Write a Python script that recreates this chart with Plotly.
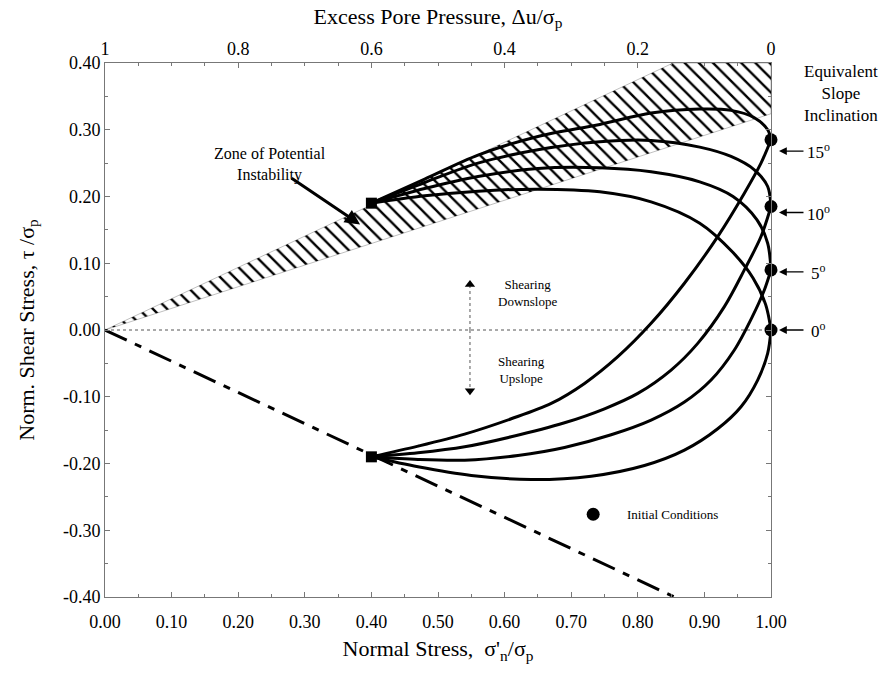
import plotly.graph_objects as go

# ---- data -------------------------------------------------------------
# Zone of potential instability (between the two limiting lines)
zone_x = [0.0, 0.853, 1.0, 1.0, 0.0]
zone_y = [0.0, 0.40, 0.40, 0.324, 0.0]

# Failure line for upslope shearing (dash-dot)
fail_x = [0.0, 0.855]
fail_y = [0.0, -0.40]

# Initial conditions for each equivalent slope inclination
slope_labels = ["0", "5", "10", "15"]
init_x = [1.0, 1.0, 1.0, 1.0]
init_y = [0.0, 0.09, 0.185, 0.285]
slope_tan = [0.0, 0.087, 0.176, 0.268]

# Stress paths, shearing downslope (from the limiting line to the initial state)
down_x = {
    "0": [0.40, 0.48, 0.56, 0.65, 0.743, 0.82, 0.893, 0.943, 0.973, 0.992, 1.0],
    "5": [0.40, 0.48, 0.56, 0.65, 0.743, 0.82, 0.893, 0.943, 0.979, 0.995, 1.0],
    "10": [0.40, 0.48, 0.56, 0.65, 0.743, 0.82, 0.893, 0.94, 0.975, 0.995, 1.0],
    "15": [0.40, 0.48, 0.56, 0.65, 0.743, 0.82, 0.893, 0.94, 0.975, 0.995, 1.0],
}
down_y = {
    "0": [0.19, 0.201, 0.208, 0.211, 0.207, 0.192, 0.16, 0.116, 0.078, 0.038, 0.0],
    "5": [0.19, 0.212, 0.23, 0.242, 0.243, 0.237, 0.222, 0.2, 0.165, 0.13, 0.09],
    "10": [0.19, 0.221, 0.25, 0.27, 0.282, 0.284, 0.274, 0.26, 0.24, 0.215, 0.185],
    "15": [0.19, 0.226, 0.262, 0.29, 0.308, 0.325, 0.331, 0.329, 0.318, 0.30, 0.285],
}

# Stress paths, shearing upslope (from the limiting line to the initial state)
up_x = {
    "0": [0.40, 0.47, 0.55, 0.64, 0.73, 0.81, 0.87, 0.92, 0.955, 0.98, 0.995, 1.0],
    "5": [0.40, 0.47, 0.54, 0.62, 0.69, 0.76, 0.82, 0.87, 0.91, 0.945, 0.972, 0.99, 1.0],
    "10": [0.40, 0.47, 0.54, 0.61, 0.69, 0.75, 0.80, 0.85, 0.89, 0.93, 0.96, 0.985, 1.0],
    "15": [0.40, 0.47, 0.54, 0.61, 0.67, 0.72, 0.77, 0.82, 0.87, 0.92, 0.96, 0.985, 1.0],
}
up_y = {
    "0": [-0.19, -0.205, -0.218, -0.224, -0.219, -0.203, -0.18, -0.148, -0.115, -0.075, -0.035, 0.0],
    "5": [-0.19, -0.194, -0.195, -0.188, -0.176, -0.157, -0.135, -0.108, -0.075, -0.03, 0.02, 0.06, 0.09],
    "10": [-0.19, -0.184, -0.175, -0.16, -0.139, -0.118, -0.095, -0.06, -0.02, 0.035, 0.09, 0.14, 0.185],
    "15": [-0.19, -0.174, -0.156, -0.133, -0.11, -0.08, -0.04, 0.01, 0.07, 0.14, 0.205, 0.25, 0.285],
}

# Points where the paths reach the limiting lines
end_x = [0.40, 0.40]
end_y = [0.19, -0.19]

# Legend marker position
legend_x = [0.733]
legend_y = [-0.276]

# Axis ticks
x_ticks = [0.0, 0.1, 0.2, 0.3, 0.4, 0.5, 0.6, 0.7, 0.8, 0.9, 1.0]
y_ticks = [-0.4, -0.3, -0.2, -0.1, 0.0, 0.1, 0.2, 0.3, 0.4]
y_text = ["-0.40", "-0.30", "-0.20", "-0.10", "0.00", "0.10", "0.20", "0.30", "0.40"]
top_ticks = [1.0, 0.8, 0.6, 0.4, 0.2, 0.0]
top_text = ["1", "0.8", "0.6", "0.4", "0.2", "0"]

# ---- figure -----------------------------------------------------------
SERIF = "Liberation Serif, Times New Roman, serif"
fig = go.Figure()

fig.add_trace(go.Scatter(
    x=zone_x, y=zone_y, mode="lines", fill="toself",
    line=dict(width=0.5, color="rgba(0,0,0,0.5)"),
    fillcolor="white",
    fillpattern=dict(shape="\\", size=10, solidity=0.24, fgcolor="black",
                     bgcolor="white", fgopacity=1),
    hoverinfo="skip", showlegend=False,
))

# zero shear line
fig.add_trace(go.Scatter(
    x=[0.0, 1.0], y=[0.0, 0.0], mode="lines",
    line=dict(color="#555", width=1, dash="dot"), showlegend=False,
))

fig.add_trace(go.Scatter(
    x=fail_x, y=fail_y, mode="lines",
    line=dict(color="black", width=3, dash="24px,9px,7px,9px"), showlegend=False,
))

for key in slope_labels:
    for xs, ys in ((down_x[key], down_y[key]), (up_x[key], up_y[key])):
        fig.add_trace(go.Scatter(
            x=xs, y=ys, mode="lines", line_shape="spline",
            line=dict(color="black", width=3, smoothing=0.9), showlegend=False,
        ))

fig.add_trace(go.Scatter(
    x=end_x, y=end_y, mode="markers",
    marker=dict(symbol="square", size=11, color="black"), showlegend=False,
))
fig.add_trace(go.Scatter(
    x=init_x, y=init_y, mode="markers", cliponaxis=False,
    marker=dict(symbol="circle", size=13, color="black"), showlegend=False,
))
fig.add_trace(go.Scatter(
    x=legend_x, y=legend_y, mode="markers",
    marker=dict(symbol="circle", size=13, color="black"), showlegend=False,
))

# shearing direction arrows
fig.add_trace(go.Scatter(
    x=[0.548, 0.548], y=[0.0, 0.07], mode="lines",
    line=dict(color="#555", width=1, dash="dot"), showlegend=False,
))
fig.add_trace(go.Scatter(
    x=[0.548, 0.548], y=[0.0, -0.093], mode="lines",
    line=dict(color="#555", width=1, dash="dot"), showlegend=False,
))
fig.add_trace(go.Scatter(
    x=[0.548, 0.548], y=[0.068, -0.091], mode="markers",
    marker=dict(symbol=["triangle-up", "triangle-down"], size=9, color="black"),
    showlegend=False,
))

# secondary axis for excess pore pressure
fig.add_trace(go.Scatter(x=[1.0, 0.0], y=[None, None], xaxis="x2", showlegend=False))

ann = []
ann.append(dict(x=0.248, y=0.248, xref="x", yref="y", showarrow=False,
                text="Zone of Potential<br>Instability", align="center",
                font=dict(family=SERIF, size=16, color="black")))
ann.append(dict(x=0.383, y=0.158, ax=0.278, ay=0.229, xref="x", yref="y",
                axref="x", ayref="y", showarrow=True, arrowhead=2, arrowsize=1,
                arrowwidth=3, arrowcolor="black", text=""))
ann.append(dict(x=1.105, y=0.355, xref="paper", yref="y", showarrow=False,
                xanchor="center", yanchor="middle",
                text="Equivalent<br>Slope<br>Inclination", align="center",
                font=dict(family=SERIF, size=17, color="black")))
for lab, t in zip(slope_labels, slope_tan):
    ann.append(dict(x=1.012, y=t, ax=26, ay=0, xref="paper", yref="y",
                    showarrow=True, arrowhead=2, arrowsize=1.2, arrowwidth=1.3,
                    arrowcolor="black", text=""))
    ann.append(dict(x=1.072, y=t, xref="paper", yref="y", showarrow=False,
                    xanchor="center", text=lab + "<sup>o</sup>",
                    font=dict(family=SERIF, size=17, color="black")))
ann.append(dict(x=0.635, y=0.055, xref="x", yref="y", showarrow=False,
                xanchor="center", text="Shearing<br>Downslope", align="center",
                font=dict(family=SERIF, size=13, color="black")))
ann.append(dict(x=0.626, y=-0.06, xref="x", yref="y", showarrow=False,
                xanchor="center", text="Shearing<br>Upslope", align="center",
                font=dict(family=SERIF, size=13, color="black")))
ann.append(dict(x=0.781, y=-0.276, xref="x", yref="y", showarrow=False,
                xanchor="left", text="Initial Conditions",
                font=dict(family=SERIF, size=13, color="black")))

axis_common = dict(
    showgrid=False, zeroline=False, showline=True, linecolor="#777", linewidth=1,
    ticks="inside", ticklen=5, tickcolor="#777",
    tickfont=dict(family=SERIF, size=18, color="black"),
)

fig.update_layout(
    width=893, height=690,
    margin=dict(l=105, r=122, t=63, b=93),
    paper_bgcolor="white", plot_bgcolor="white",
    annotations=ann,
    xaxis=dict(
        range=[0, 1], tickvals=x_ticks, tickformat=".2f",
        minor=dict(ticks="inside", ticklen=3, dtick=0.05, tickcolor="#777"),
        title=dict(text="Normal Stress,  σ'<sub>n</sub>/σ<sub>p</sub>",
                   font=dict(family=SERIF, size=22, color="black"), standoff=10),
        ticklabelstandoff=8,
        **axis_common,
    ),
    xaxis2=dict(
        range=[1, 0], overlaying="x", side="top", tickvals=top_ticks, ticktext=top_text,
        minor=dict(ticks="inside", ticklen=3, dtick=0.05, tickcolor="#777"),
        title=dict(text="Excess Pore Pressure, Δu/σ<sub>p</sub>",
                   font=dict(family=SERIF, size=22, color="black"), standoff=8),
        **axis_common,
    ),
    yaxis=dict(
        range=[-0.4, 0.4], tickvals=y_ticks, ticktext=y_text, mirror="ticks",
        minor=dict(ticks="inside", ticklen=3, dtick=0.05, tickcolor="#777"),
        title=dict(text="Norm. Shear Stress, τ /σ<sub>p</sub>",
                   font=dict(family=SERIF, size=22, color="black"), standoff=22),
        **axis_common,
    ),
    showlegend=False,
)

fig.write_html("out.html")
